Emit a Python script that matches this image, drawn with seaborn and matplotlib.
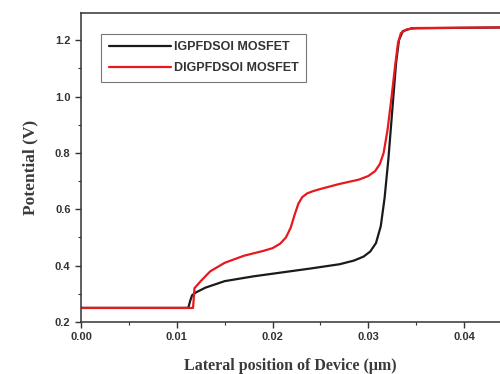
import matplotlib
matplotlib.use("Agg")
import matplotlib.pyplot as plt
from matplotlib.ticker import MultipleLocator
import seaborn as sns
import pandas as pd

# Surface potential along the channel for the two device structures
igp_x = [0.0, 0.0112, 0.0114, 0.0116, 0.0120, 0.0130, 0.0150, 0.0180, 0.0210,
         0.0240, 0.0270, 0.0285, 0.0295, 0.0302, 0.0308, 0.0313, 0.0317, 0.0321,
         0.0325, 0.0329, 0.0332, 0.0336, 0.0345, 0.0438]
igp_y = [0.25, 0.25, 0.275, 0.295, 0.305, 0.322, 0.345, 0.362, 0.376,
         0.390, 0.405, 0.418, 0.432, 0.450, 0.480, 0.540, 0.640, 0.780,
         0.950, 1.120, 1.200, 1.232, 1.242, 1.245]

digp_x = [0.0, 0.0117, 0.01185, 0.0125, 0.0135, 0.0150, 0.0170, 0.0190, 0.0200,
          0.0208, 0.0214, 0.0219, 0.0223, 0.0227, 0.0231, 0.0236, 0.0242, 0.0250,
          0.0270, 0.0290, 0.0300, 0.0307, 0.0312, 0.0316, 0.0320, 0.0324, 0.0328,
          0.0331, 0.0334, 0.0340, 0.0350, 0.0438]
digp_y = [0.25, 0.25, 0.320, 0.345, 0.380, 0.410, 0.435, 0.452, 0.462,
          0.478, 0.500, 0.535, 0.580, 0.620, 0.643, 0.656, 0.664, 0.672,
          0.690, 0.705, 0.718, 0.735, 0.760, 0.800, 0.880, 0.990, 1.110,
          1.190, 1.225, 1.238, 1.243, 1.245]

series_names = ["IGPFDSOI MOSFET", "DIGPFDSOI MOSFET"]
series_colors = ["#1a1a1a", "#e8191e"]

x_ticks = [0.00, 0.01, 0.02, 0.03, 0.04]
y_ticks = [0.2, 0.4, 0.6, 0.8, 1.0, 1.2]

df = pd.concat([
    pd.DataFrame({"x": igp_x, "y": igp_y, "device": series_names[0]}),
    pd.DataFrame({"x": digp_x, "y": digp_y, "device": series_names[1]}),
])

sns.set_style("white")
fig = plt.figure(figsize=(5.0, 3.74), dpi=100)
ax = fig.add_axes([0.162, 0.139, 0.838, 0.826])

sns.lineplot(data=df, x="x", y="y", hue="device", palette=series_colors,
             hue_order=series_names, sort=False, estimator=None,
             linewidth=1.6, ax=ax)

ax.set_xlim(0, 0.04375)
ax.set_ylim(0.2, 1.296)
ax.set_xticks(x_ticks)
ax.set_xticklabels([f"{v:.2f}" for v in x_ticks])
ax.set_yticks(y_ticks)
ax.set_yticklabels([f"{v:.1f}" for v in y_ticks])
ax.xaxis.set_minor_locator(MultipleLocator(0.005))
ax.yaxis.set_minor_locator(MultipleLocator(0.1))
ax.tick_params(axis="both", which="major", direction="out", length=4, width=1,
               labelsize=8, bottom=True, left=True, color="#333333")
ax.tick_params(axis="both", which="minor", direction="out", length=2, width=0.8,
               bottom=True, left=True, color="#333333")
for lab in ax.get_xticklabels() + ax.get_yticklabels():
    lab.set_fontfamily("Liberation Sans")
    lab.set_fontweight("bold")
    lab.set_color("#333333")

for side in ["left", "bottom", "top"]:
    ax.spines[side].set_color("#333333")
    ax.spines[side].set_linewidth(1.1)
ax.spines["right"].set_visible(False)

ax.set_xlabel("Lateral position of Device (\u03bcm)", family="Liberation Serif",
              fontweight="bold", fontsize=11.5, color="#3a3a3a", labelpad=11)
ax.set_ylabel("Potential (V)", family="Liberation Serif",
              fontweight="bold", fontsize=12.5, color="#3a3a3a", labelpad=12)

leg = ax.legend(loc="upper left", bbox_to_anchor=(0.033, 0.953), frameon=True,
                fancybox=False, handlelength=5.0, handletextpad=0.2,
                borderpad=0.6, labelspacing=0.7,
                prop={"family": "Liberation Sans", "weight": "bold", "size": 9})
leg.get_frame().set_edgecolor("#555555")
leg.get_frame().set_linewidth(0.8)
for t in leg.get_texts():
    t.set_color("#333333")

fig.savefig("out.png", dpi=100)
